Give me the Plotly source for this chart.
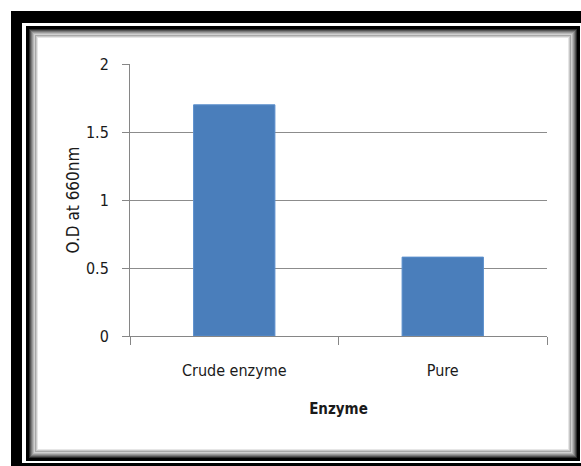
import plotly.graph_objects as go

# Enzyme activity (optical density at 660 nm)
categories = ["Crude enzyme", "Pure"]
od_values = [1.70, 0.58]
y_ticks = [0, 0.5, 1, 1.5, 2]
y_tick_labels = ["0", "0.5", "1", "1.5", "2"]

W, H = 581, 466
FONT = "DejaVu Sans Condensed"
TXT = "#1a1a1a"


def px_rect(x0, y0, x1, y1, color, layer="below"):
    """Filled rectangle given in figure pixels (paper spans the whole figure)."""
    return dict(
        type="rect", xref="paper", yref="paper",
        x0=x0 / W, x1=x1 / W, y0=1 - y1 / H, y1=1 - y0 / H,
        fillcolor=color, line=dict(width=0), layer=layer,
    )


shapes = []
# heavy black outer frame (left and top) plus thin bottom line
shapes.append(px_rect(11, 11, 22, 466, "#000000"))
shapes.append(px_rect(11, 11, 581, 23, "#000000"))
shapes.append(px_rect(22, 463, 581, 466, "#000000"))
# inner bevelled frame: black edge fading to light grey towards the chart
bevel = ["#000000", "#000000", "#000000", "#2a2a2a", "#555555", "#7a7a7a",
         "#9a9a9a", "#b8b8b8", "#d0d0d0", "#a8a8a8", "#c8c8c8", "#e6e6e6"]
x0, y0, x1, y1 = 26, 26, 580, 461
for i, c in enumerate(bevel):
    shapes.append(px_rect(x0 + i, y0 + i, x1 - i, y1 - i, c))
shapes.append(px_rect(x0 + len(bevel), y0 + len(bevel),
                      x1 - len(bevel), y1 - len(bevel), "#ffffff"))

fig = go.Figure(
    go.Bar(
        x=categories,
        y=od_values,
        marker=dict(color="#4a7ebb", line=dict(color="#5b8fcc", width=1)),
        width=0.39,
    )
)

# plot area in pixels: x 130..547, y 64..336
fig.update_layout(
    width=W, height=H,
    margin=dict(l=0, r=0, t=0, b=0),
    paper_bgcolor="#ffffff",
    plot_bgcolor="rgba(0,0,0,0)",
    showlegend=False,
    shapes=shapes,
    font=dict(family=FONT, size=16, color=TXT),
    xaxis=dict(
        domain=[130 / W, 547 / W],
        showgrid=False,
        showline=True, linecolor="#868686", linewidth=1,
        ticks="outside", tickson="boundaries", ticklen=8,
        tickcolor="#868686",
        ticklabelstandoff=20,
        tickfont=dict(family=FONT, size=16, color=TXT),
        title=dict(text="<b>Enzyme</b>", font=dict(family=FONT, size=15,
                                                   color=TXT),
                   standoff=24),
        automargin=False,
    ),
    yaxis=dict(
        domain=[1 - 336 / H, 1 - 64 / H],
        range=[0, 2],
        tickvals=y_ticks, ticktext=y_tick_labels,
        showgrid=True, gridcolor="#8c8c8c", gridwidth=1,
        zeroline=False,
        showline=True, linecolor="#868686", linewidth=1,
        ticks="outside", ticklen=7, tickcolor="#868686",
        ticklabelstandoff=10,
        tickfont=dict(family=FONT, size=16, color=TXT),
        title=dict(text="O.D at 660nm", font=dict(family=FONT, size=17,
                                                  color=TXT),
                   standoff=1),
        automargin=False,
    ),
)

fig.write_html("out.html")
